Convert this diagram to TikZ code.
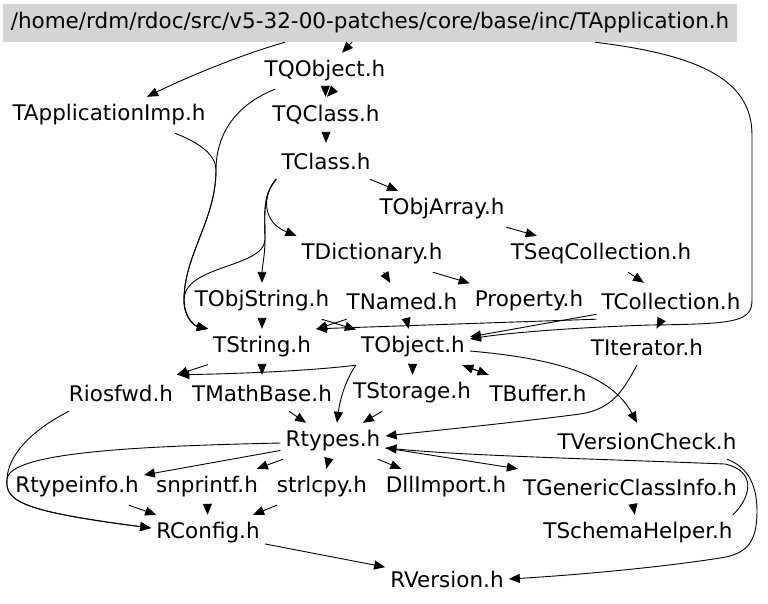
\documentclass[tikz,border=0pt]{standalone}
\usepackage{fontspec}
\setmainfont{DejaVu Sans}
\usetikzlibrary{arrows.meta}

\begin{document}
\begin{tikzpicture}[
  x=1pt,
  y=-1pt,
  edge/.style={draw=black, line width=0.9pt, -{Triangle[length=11pt,width=9pt]}},
  header/.style={
    rectangle,
    minimum height=36pt,
    inner xsep=5pt,
    inner ysep=0pt,
    font=\fontsize{21.5}{25}\selectfont
  },
  rootfile/.style={
    header,
    fill=black!17,
    minimum width=734pt,
    minimum height=38pt
  }
]
\useasboundingbox (0,0) rectangle (768,603);

% Node coordinates follow the include graph in pixels (y grows downwards).
% Curved edges are routed by hand with explicit control points.

\node[rootfile] (root) at (370,23) {/home/rdm/rdoc/src/v5-32-00-patches/core/base/inc/TApplication.h};

\node[header] (tqobject) at (325,71) {TQObject.h};
\node[header] (tappimp)  at (109,115) {TApplicationImp.h};
\node[header] (tqclass)  at (326,115) {TQClass.h};
\node[header] (tclass)   at (326,161) {TClass.h};
\node[header] (tobjarray) at (442,209) {TObjArray.h};
\node[header] (tdict)    at (372,254) {TDictionary.h};
\node[header] (tseqcoll) at (601,254) {TSeqCollection.h};

\node[header] (tobjstring) at (262,301) {TObjString.h};
\node[header] (tnamed)   at (402,301) {TNamed.h};
\node[header] (property) at (529,301) {Property.h};
\node[header] (tcollection) at (671,301) {TCollection.h};

\node[header] (tstring)  at (262,347) {TString.h};
\node[header] (tobject)  at (413,347) {TObject.h};
\node[header] (titerator) at (647,347) {TIterator.h};

\node[header] (riosfwd)  at (121,393) {Riosfwd.h};
\node[header] (tmathbase) at (262,393) {TMathBase.h};
\node[header] (tstorage) at (412,393) {TStorage.h};
\node[header] (tbuffer)  at (538,393) {TBuffer.h};

\node[header] (rtypes)   at (333,441) {Rtypes.h};
\node[header] (tversioncheck) at (647,441) {TVersionCheck.h};

\node[header] (rtypeinfo) at (77,487) {Rtypeinfo.h};
\node[header] (snprintf) at (207,487) {snprintf.h};
\node[header] (strlcpy)  at (322,487) {strlcpy.h};
\node[header] (dllimport) at (446,487) {DllImport.h};
\node[header] (tgeneric) at (630,487) {TGenericClassInfo.h};

\node[header] (rconfig)  at (208,533) {RConfig.h};
\node[header] (tschema)  at (638,533) {TSchemaHelper.h};
\node[header] (rversion) at (447,579) {RVersion.h};

% top of the graph
\draw[edge] ([xshift=-85pt]root.south) .. controls (240,55) and (185,78) .. ([xshift=38pt]tappimp.north);
\draw[edge] (root) -- (tqobject);
\draw[edge] (tqobject) -- (tqclass);
\draw[edge] ([xshift=9pt]tqobject.south) -- ([xshift=1pt]tqclass.north);
\draw[edge] (tqclass) -- (tclass);
\draw[edge] ([xshift=225pt]root.south) .. controls (700,55) and (752,80) .. (752,135) -- (752,300)
  .. controls (752,322) and (735,324) .. (650,325) .. controls (560,328) and (500,334) .. ([yshift=8pt]tobject.east);

% into TString.h from the left
\draw[edge] ([xshift=-50pt]tqobject.south) .. controls (235,105) and (216,135) .. (216,170)
  .. controls (216,220) and (184,255) .. (184,300) .. controls (184,318) and (195,326) .. (tstring.north west);
\draw[edge] ([xshift=66pt]tappimp.south) .. controls (200,143) and (216,155) .. (216,170)
  .. controls (216,220) and (184,255) .. (184,300) .. controls (184,318) and (195,326) .. (tstring.north west);
\draw[edge] (tclass.south west) .. controls (262,195) and (265,215) .. (265,240)
  .. controls (263,268) and (184,265) .. (184,300) .. controls (184,318) and (195,326) .. (tstring.north west);

% TClass.h and its includes
\draw[edge] (tclass.south west) .. controls (262,195) and (262,222) .. (tdict.north west);
\draw[edge] (tclass.south west) .. controls (262,195) and (265,215) .. (265,240)
  .. controls (265,255) and (262,268) .. (tobjstring.north);
\draw[edge] (tclass) -- (tobjarray);
\draw[edge] (tobjarray) -- (tseqcoll);
\draw[edge] (tseqcoll) -- (tcollection);
\draw[edge] (tdict) -- (tnamed);
\draw[edge] (tdict) -- (property);

% middle rows
\draw[edge] (tnamed) -- (tobject);
\draw[edge] (tnamed) -- (tstring);
\draw[edge] (tobjstring) -- (tobject);
\draw[edge] (tobjstring) -- (tstring);
\draw[edge] (tcollection) -- (tobject);
\draw[edge] (tcollection.south west) -- (tstring.north east);
\draw[edge] (tcollection) -- (titerator);

\draw[edge] (tstring) -- (riosfwd);
\draw[edge] (tstring) -- (tmathbase);
\draw[edge] (tobject.south west) .. controls (300,372) and (220,374) .. (riosfwd.north east);
\draw[edge] (tobject.south west) .. controls (346,379) and (340,399) .. ([xshift=4pt]rtypes.north);
\draw[edge] (tobject) -- (tstorage);
\draw[edge] (tobject) -- (tbuffer);
\draw[edge] (tbuffer) -- (tobject);
\draw[edge] ([yshift=-4pt]tobject.east) .. controls (560,359) and (612,376) .. ([xshift=-10pt]tversioncheck.north);
\draw[edge] ([xshift=-10pt]titerator.south) .. controls (625,386) and (615,409) .. (580,414)
  .. controls (520,422) and (430,431) .. ([yshift=5pt]rtypes.east);

\draw[edge] (tmathbase) -- (rtypes);
\draw[edge] (tstorage) -- (rtypes);

% right-hand side
\draw[edge] ([xshift=80pt]tversioncheck.south) .. controls (745,466) and (757,481) .. (757,511)
  .. controls (757,541) and (748,554) .. (720,558) .. controls (650,569) and (560,576) .. (rversion.east);
\draw[edge] ([xshift=95pt]tschema.north) .. controls (752,496) and (756,471) .. (725,464)
  .. controls (600,459) and (470,456) .. ([yshift=-7pt]rtypes.east);
\draw[edge] ([yshift=-7pt]rtypes.east) -- (tgeneric.north west);
\draw[edge] (tgeneric) -- (tschema);

% Rtypes.h and the bottom rows
\draw[edge] (rtypes) -- (dllimport);
\draw[edge] (rtypes) -- (strlcpy);
\draw[edge] (rtypes) -- (snprintf);
\draw[edge] (rtypes) -- (rtypeinfo);
\draw[edge] ([yshift=-2pt]rtypes.west) .. controls (150,446) and (10,451) .. (7,479)
  .. controls (5,501) and (20,511) .. ([yshift=5pt]rconfig.west);
\draw[edge] ([xshift=-52pt]riosfwd.south) .. controls (30,431) and (8,456) .. (7,479)
  .. controls (5,501) and (20,511) .. ([yshift=5pt]rconfig.west);

\draw[edge] (rtypeinfo) -- (rconfig);
\draw[edge] (snprintf) -- (rconfig);
\draw[edge] (strlcpy) -- (rconfig);
\draw[edge] (rconfig) -- (rversion);

\end{tikzpicture}
\end{document}
